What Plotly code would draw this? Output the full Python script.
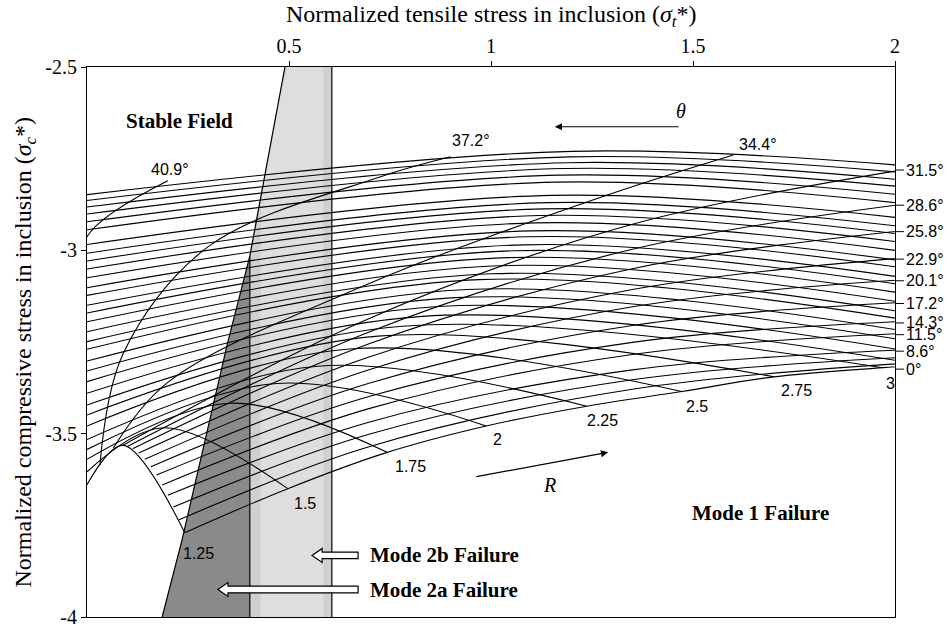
import plotly.graph_objects as go

# ---------------- data ----------------
# R-arches (R = 1.25, 1.5, ... ): crossing of left axis, peak, right end
arch_yL = [-3.639, -3.604, -3.570, -3.543, -3.516, -3.479, -3.449, -3.422, -3.390, -3.358,
           -3.329, -3.302, -3.270, -3.249, -3.222, -3.195, -3.171, -3.150, -3.123, -3.102,
           -3.075, -3.051, -3.029, -3.008, -2.984, -2.944, -2.922, -2.901, -2.882, -2.864, -2.848]
arch_xp = [0.089, 0.188, 0.354, 0.47, 0.57, 0.65, 0.72, 0.78, 0.83, 0.87,
           0.91, 0.94, 0.97, 1.0, 1.02, 1.04, 1.06, 1.08, 1.09, 1.10,
           1.11, 1.12, 1.13, 1.14, 1.15, 1.16, 1.17, 1.18, 1.19, 1.195, 1.2]
arch_yp = [-3.532, -3.484, -3.417, -3.363, -3.316, -3.269, -3.234, -3.207, -3.180, -3.153,
           -3.129, -3.107, -3.080, -3.064, -3.042, -3.020, -3.001, -2.985, -2.963, -2.947,
           -2.925, -2.905, -2.887, -2.870, -2.850, -2.814, -2.795, -2.777, -2.761, -2.745, -2.730]
arch_xe = [0.242, 0.497, 0.743, 0.988, 1.237, 1.472, 1.70, 1.97,
           2.0, 2.0, 2.0, 2.0, 2.0, 2.0, 2.0, 2.0, 2.0, 2.0, 2.0, 2.0, 2.0, 2.0, 2.0,
           2.0, 2.0, 2.0, 2.0, 2.0, 2.0, 2.0, 2.0]
arch_ye = [-3.770, -3.650, -3.551, -3.479, -3.425, -3.385, -3.345, -3.320,
           -3.300, -3.269, -3.241, -3.216, -3.185, -3.165, -3.139, -3.114, -3.091, -3.071,
           -3.045, -3.026, -3.000, -2.976, -2.954, -2.933, -2.910, -2.870, -2.847, -2.825,
           -2.806, -2.786, -2.767]

# theta-rays (0 ... 40.9 deg), from the R = 1.25 arch outwards
ray_x = [
    [0.242, 0.497, 0.743, 0.988, 1.237, 1.472, 1.70, 1.97, 2.1],
    [0.228, 0.7, 1.35, 2.05],
    [0.214, 0.7, 1.35, 2.05],
    [0.200, 0.7, 1.35, 2.05],
    [0.186, 0.7, 1.35, 2.05],
    [0.172, 0.7, 1.35, 2.05],
    [0.158, 0.7, 1.35, 2.05],
    [0.143, 0.7, 1.35, 2.05],
    [0.128, 0.7, 1.35, 2.05],
    [0.113, 0.7, 1.35, 2.05],
    [0.100, 0.7, 1.35, 2.05],
    [0.088, 0.7, 1.35, 2.05],
    [0.065, 0.2, 0.7, 1.27, 1.6],
    [0.032, 0.089, 0.3, 0.725, 0.9],
    [-0.02, -0.01, 0.0, 0.2],
]
ray_y = [
    [-3.770, -3.650, -3.551, -3.479, -3.425, -3.385, -3.345, -3.320, -3.31],
    [-3.735, -3.535, -3.379, -3.306],
    [-3.700, -3.501, -3.353, -3.290],
    [-3.668, -3.468, -3.326, -3.270],
    [-3.640, -3.431, -3.284, -3.225],
    [-3.613, -3.398, -3.251, -3.192],
    [-3.590, -3.362, -3.205, -3.140],
    [-3.570, -3.325, -3.154, -3.078],
    [-3.553, -3.290, -3.107, -3.018],
    [-3.541, -3.254, -3.050, -2.943],
    [-3.535, -3.222, -2.997, -2.870],
    [-3.532, -3.185, -2.929, -2.775],
    [-3.540, -3.36, -3.09, -2.856, -2.74],
    [-3.586, -3.283, -2.99, -2.80, -2.745],
    [-3.66, -3.1, -2.963, -2.81],
]

R_labels = ["1.25", "1.5", "1.75", "2", "2.25", "2.5", "2.75", "3"]
R_lab_x = [0.275, 0.54, 0.80, 1.015, 1.277, 1.51, 1.757, 1.988]
R_lab_y = [-3.826, -3.69, -3.59, -3.516, -3.465, -3.425, -3.382, -3.364]

theta_right_labels = ["31.5°", "28.6°", "25.8°", "22.9°", "20.1°", "17.2°", "14.3°", "11.5°", "8.6°", "0°"]
theta_right_y = [-2.781, -2.877, -2.949, -3.024, -3.083, -3.145, -3.198, -3.230, -3.275, -3.324]

theta_top_labels = ["40.9°", "37.2°", "34.4°"]
theta_top_x = [0.205, 0.95, 1.66]
theta_top_y = [-2.78, -2.70, -2.71]

# shaded failure bands
slant_x = [0.490, 0.403, 0.347, 0.235, 0.186]
slant_y = [-2.5, -3.016, -3.257, -3.791, -4.0]
band_2a_right = 0.403
band_2b_right = 0.606

# ---------------- figure ----------------
fig = go.Figure()

# light band (mode 2b)
fig.add_trace(go.Scatter(
    x=[slant_x[0], band_2b_right, band_2b_right, band_2a_right, band_2a_right, slant_x[0]],
    y=[-2.5, -2.5, -4.0, -4.0, slant_y[1], -2.5],
    fill="toself", fillcolor="#d0d0d0", line=dict(width=0), mode="lines",
    hoverinfo="skip", showlegend=False))
# lighter core of the light band
fig.add_trace(go.Scatter(
    x=[0.497, 0.585, 0.585, 0.43, 0.43, 0.468, 0.497],
    y=[-2.5, -2.5, -4.0, -4.0, -2.87, -2.63, -2.5],
    fill="toself", fillcolor="#dedede", line=dict(width=0), mode="lines",
    hoverinfo="skip", showlegend=False))
# dark band (mode 2a)
fig.add_trace(go.Scatter(
    x=slant_x[1:] + [band_2a_right, slant_x[1]],
    y=slant_y[1:] + [-4.0, slant_y[1]],
    fill="toself", fillcolor="#8a8a8a", line=dict(width=0), mode="lines",
    hoverinfo="skip", showlegend=False))
# boundary lines of bands
fig.add_trace(go.Scatter(x=slant_x, y=slant_y, mode="lines",
                         line=dict(color="black", width=1.2), hoverinfo="skip", showlegend=False))
fig.add_trace(go.Scatter(x=[band_2a_right, band_2a_right], y=[slant_y[1], -4.0], mode="lines",
                         line=dict(color="black", width=1.2), hoverinfo="skip", showlegend=False))
fig.add_trace(go.Scatter(x=[band_2b_right, band_2b_right], y=[-2.5, -4.0], mode="lines",
                         line=dict(color="black", width=1.2), hoverinfo="skip", showlegend=False))

# R arches
for yL, xp, yp, xe, ye in zip(arch_yL, arch_xp, arch_yp, arch_xe, arch_ye):
    fig.add_trace(go.Scatter(x=[0.0, xp, xe], y=[yL, yp, ye], mode="lines",
                             line=dict(color="black", width=1.1, shape="spline", smoothing=1.0),
                             hoverinfo="skip", showlegend=False))
# theta rays
for xs, ys in zip(ray_x, ray_y):
    fig.add_trace(go.Scatter(x=xs, y=ys, mode="lines",
                             line=dict(color="black", width=1.1, shape="spline", smoothing=1.0),
                             hoverinfo="skip", showlegend=False))

serif = "Liberation Serif, Times New Roman, serif"
sans = "Liberation Sans, Arial, sans-serif"
ann = []
for t, x, y in zip(R_labels, R_lab_x, R_lab_y):
    ann.append(dict(x=x, y=y, text=t, showarrow=False, font=dict(family=sans, size=16, color="black")))
shapes = []
for t, y in zip(theta_right_labels, theta_right_y):
    ann.append(dict(x=1.0, xref="paper", y=y, yref="y", text=t, showarrow=False, xanchor="left",
                    yanchor="middle", xshift=9, font=dict(family=sans, size=16, color="black")))
    shapes.append(dict(type="line", xref="paper", yref="y", x0=1.0, x1=1.011, y0=y, y1=y,
                       line=dict(color="black", width=1)))
for t, x, y in zip(theta_top_labels, theta_top_x, theta_top_y):
    ann.append(dict(x=x, y=y, text=t, showarrow=False, font=dict(family=sans, size=16, color="black")))

ann += [
    dict(x=0.23, y=-2.647, text="<b>Stable Field</b>", showarrow=False,
         font=dict(family=serif, size=21, color="black")),
    dict(x=1.493, y=-3.717, text="<b>Mode 1 Failure</b>", showarrow=False, xanchor="left",
         font=dict(family=serif, size=21, color="black")),
    dict(x=0.696, y=-3.832, text="<b>Mode 2b Failure</b>", showarrow=False, xanchor="left",
         font=dict(family=serif, size=21, color="black")),
    dict(x=0.696, y=-3.925, text="<b>Mode 2a Failure</b>", showarrow=False, xanchor="left",
         font=dict(family=serif, size=21, color="black")),
    # theta arrow
    dict(x=1.158, y=-2.663, ax=1.468, ay=-2.663, axref="x", ayref="y", text="", showarrow=True,
         arrowhead=2, arrowsize=1.2, arrowwidth=1.2, arrowcolor="black"),
    dict(x=1.47, y=-2.62, text="<i>θ</i>", showarrow=False, font=dict(family=serif, size=20, color="black")),
    # R arrow
    dict(x=1.290, y=-3.551, ax=0.960, ay=-3.618, axref="x", ayref="y", text="", showarrow=True,
         arrowhead=2, arrowsize=1.2, arrowwidth=1.2, arrowcolor="black"),
    dict(x=1.146, y=-3.64, text="<i>R</i>", showarrow=False, font=dict(family=serif, size=20, color="black")),
    # axis titles
    dict(x=0.5, y=1.0927, xref="paper", yref="paper", showarrow=False, xanchor="center", yanchor="middle",
         text="Normalized tensile stress in inclusion (<i>σ<sub>t</sub></i>*)",
         font=dict(family=serif, size=24, color="black")),
    dict(x=-0.0767, y=0.481, xref="paper", yref="paper", showarrow=False, textangle=-90,
         xanchor="center", yanchor="middle",
         text="Normalized compressive stress in inclusion (<i>σ<sub>c</sub></i>*)",
         font=dict(family=serif, size=24, color="black")),
]

# hollow block arrows pointing at the bands
def block_arrow(x_tip, x_tail, yc):
    hl, hh, sh = 0.025, 0.019, 0.009
    return dict(type="path", xref="x", yref="y",
                path=(f"M {x_tip},{yc} L {x_tip+hl},{yc+hh} L {x_tip+hl},{yc+sh} L {x_tail},{yc+sh} "
                      f"L {x_tail},{yc-sh} L {x_tip+hl},{yc-sh} L {x_tip+hl},{yc-hh} Z"),
                fillcolor="white", line=dict(color="black", width=1.2))

shapes.append(block_arrow(0.557, 0.671, -3.832))
shapes.append(block_arrow(0.324, 0.671, -3.925))

fig.update_layout(
    width=951, height=639,
    margin=dict(l=87, r=56, t=67, b=11),
    paper_bgcolor="white", plot_bgcolor="white",
    annotations=ann, shapes=shapes, showlegend=False,
    xaxis=dict(range=[0, 2], side="top", tickvals=[0.5, 1, 1.5, 2], ticktext=["0.5", "1", "1.5", "2"],
               ticks="outside", ticklen=5, tickcolor="black", showline=True, linecolor="black",
               linewidth=1.2, mirror=True, showgrid=False, zeroline=False,
               tickfont=dict(family=serif, size=20, color="black")),
    yaxis=dict(range=[-4, -2.5], tickvals=[-4, -3.5, -3, -2.5], ticktext=["-4", "-3.5", "-3", "-2.5"],
               ticks="outside", ticklen=5, tickcolor="black", showline=True, linecolor="black",
               linewidth=1.2, mirror=True, showgrid=False, zeroline=False,
               tickfont=dict(family=serif, size=20, color="black")),
)

fig.write_html("out.html")
